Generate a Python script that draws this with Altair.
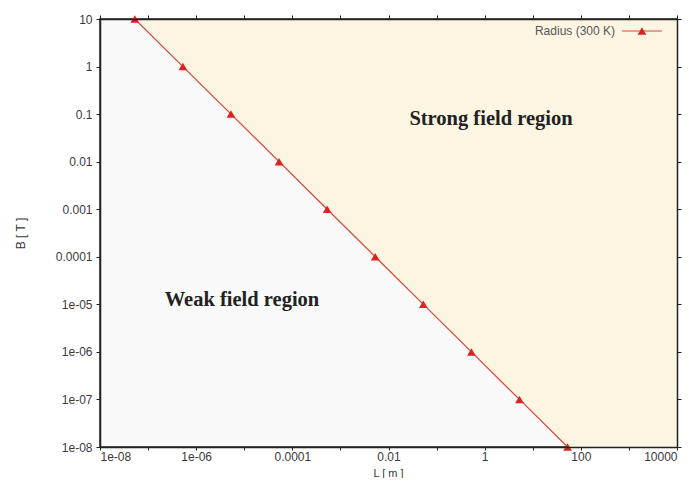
import altair as alt
import pandas as pd

# Data
L_m = [5.3e-8, 5.3e-7, 5.3e-6, 5.3e-5, 5.3e-4, 5.3e-3, 5.3e-2, 0.53, 5.3, 53.0]
B_T = [10.0, 1.0, 0.1, 0.01, 0.001, 1e-4, 1e-5, 1e-6, 1e-7, 1e-8]
series_name = "Radius (300 K)"
x_domain = [1e-8, 1e4]
y_domain = [1e-8, 10.0]
x_ticks = [1e-8, 1e-7, 1e-6, 1e-5, 1e-4, 1e-3, 1e-2, 1e-1, 1, 10, 100, 1e3, 1e4]
y_ticks = [1e-8, 1e-7, 1e-6, 1e-5, 1e-4, 1e-3, 1e-2, 1e-1, 1, 10]
region_labels = ["Strong field region", "Weak field region"]

line_df = pd.DataFrame({"L": L_m, "B": B_T})
# the strong-field region: from the line up to the top of the plot, out to the right edge
area_df = pd.DataFrame({"L": L_m + [x_domain[1]], "B": B_T + [y_domain[0]],
                        "top": [y_domain[1]] * (len(L_m) + 1)})

W, H = 577, 428
LABEL_FONT = "Liberation Sans"
LABEL_COLOR = "#3a3a3a"

gfmt = ("(round(log(datum.value)/LN10) >= -4) ? format(datum.value, '~g') : "
        "'1e-0' + abs(round(log(datum.value)/LN10))")
x_lbl = ("(abs(round(log(datum.value)/LN10)) % 2 == 1) ? '' : (" + gfmt + ")")

xs = alt.Scale(type="log", domain=x_domain, nice=False)
ys = alt.Scale(type="log", domain=y_domain, nice=False)

area = alt.Chart(area_df).mark_area(color="#fcf5e2", opacity=1, clip=True).encode(
    x=alt.X("L:Q", scale=xs, axis=alt.Axis(
        values=x_ticks, labelExpr=x_lbl, title="L [ m ]", grid=False,
        tickSize=3, labelPadding=1, titleX=288, titleY=31, titleBaseline="bottom",
        titleFontSize=11, titleAlign="center", titleFontWeight="normal", zindex=2)),
    y=alt.Y("B:Q", scale=ys, axis=alt.Axis(
        values=y_ticks, labelExpr=gfmt, title="B [ T ]", grid=False,
        tickSize=4, labelPadding=4, titleX=-80, titleY=214, titleAlign="center",
        titleBaseline="middle", titleFontWeight="normal", zindex=2)),
    y2=alt.Y2("top:Q"),
)

line = alt.Chart(line_df).mark_line(color="#d8443a", strokeWidth=1.2, clip=True).encode(
    x=alt.X("L:Q", scale=xs, axis=alt.Axis(orient="top", values=x_ticks, labels=False,
                                           title=None, grid=False, tickSize=4, zindex=2)),
    y=alt.Y("B:Q", scale=ys, axis=alt.Axis(orient="right", values=y_ticks, labels=False,
                                           title=None, grid=False, tickSize=4, zindex=2)),
)

pts = alt.Chart(line_df).mark_point(shape="triangle-up", filled=True, color="#dd2222",
                                    size=75, opacity=1).encode(
    x=alt.X("L:Q", scale=xs, axis=None),
    y=alt.Y("B:Q", scale=ys, axis=None),
)

serif = dict(font="Liberation Serif", fontWeight="bold", fontSize=20.5, color="#222222",
             align="center", baseline="middle")
strong_txt = alt.Chart(pd.DataFrame({"t": [region_labels[0]]})).mark_text(**serif).encode(
    text="t:N", x=alt.value(391), y=alt.value(100))
weak_txt = alt.Chart(pd.DataFrame({"t": [region_labels[1]]})).mark_text(**serif).encode(
    text="t:N", x=alt.value(142), y=alt.value(281))

leg_df = pd.DataFrame({"t": [series_name]})
leg_text = alt.Chart(leg_df).mark_text(font=LABEL_FONT, fontSize=12, color="#555555",
                                       align="right", baseline="middle").encode(
    text="t:N", x=alt.value(515), y=alt.value(12))
leg_line = alt.Chart(leg_df).mark_rule(color="#d8443a", strokeWidth=1.2).encode(
    x=alt.value(522), x2=alt.value(562), y=alt.value(12))
leg_pt = alt.Chart(leg_df).mark_point(shape="triangle-up", filled=True, color="#dd2222",
                                      size=75, opacity=1).encode(
    x=alt.value(542), y=alt.value(12))

chart = alt.layer(area, line, pts, strong_txt, weak_txt, leg_text, leg_line, leg_pt).resolve_axis(
    x="independent", y="independent"
).properties(
    width=W, height=H, autosize="none", background="white",
    padding={"left": 92, "top": 11, "right": 12, "bottom": 31},
).configure_view(
    fill="#f9f9f9", stroke="#222222", strokeWidth=1.5
).configure_axis(
    labelFont=LABEL_FONT, labelFontSize=12, labelColor=LABEL_COLOR,
    titleFont=LABEL_FONT, titleFontSize=12, titleColor=LABEL_COLOR, titleFontWeight="normal",
    domainColor="#222222", tickColor="#222222", domainWidth=1.5,
)

chart.save("out.html", embed_options={"renderer": "svg", "actions": False})
